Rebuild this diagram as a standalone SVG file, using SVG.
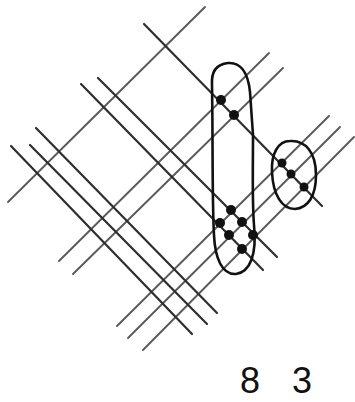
<svg xmlns="http://www.w3.org/2000/svg" width="355" height="402" viewBox="0 0 355 402">
<style>
.bk{stroke:#2e2e2e;stroke-width:2.2;stroke-linecap:round;fill:none}
.fw{stroke:#5a5a5a;stroke-width:1.9;stroke-linecap:round;fill:none}
.oval{stroke:#111;stroke-width:2.6;fill:none}
.dot{fill:#111}
.num{font-family:"Liberation Sans",Arial,sans-serif;font-size:36px;fill:#111;text-anchor:middle}
</style>
<rect width="355" height="402" fill="#fff"/>
<g id="connectors">
<line class="fw" x1="8" y1="202" x2="205" y2="7"/>
<line class="fw" x1="59" y1="261" x2="269" y2="53"/>
<line class="fw" x1="73" y1="274" x2="283" y2="68"/>
<line class="fw" x1="117" y1="326" x2="329" y2="116"/>
<line class="fw" x1="128" y1="338" x2="340" y2="127"/>
<line class="fw" x1="143" y1="350" x2="354" y2="137"/>
<line class="bk" x1="144" y1="24" x2="322" y2="206"/>
<line class="bk" x1="81" y1="84" x2="263" y2="270"/>
<line class="bk" x1="98" y1="78" x2="277" y2="257"/>
<line class="bk" x1="36" y1="128" x2="217" y2="313"/>
<line class="bk" x1="30" y1="145" x2="207" y2="324"/>
<line class="bk" x1="11" y1="146" x2="192" y2="334"/>
</g>
<g id="group-tall">
<path class="oval" d="M 212,85 C 211,70 218,64 228,63 C 240,62 248,72 250,92 L 253,135 C 253,170 252,200 254,225 C 257,255 250,272 236,274 C 222,275 215,258 214,235 C 212,200 213,140 212,85 Z"/>
<circle class="dot" cx="221" cy="100" r="5"/>
<circle class="dot" cx="234" cy="115" r="5"/>
<circle class="dot" cx="231" cy="210" r="5"/>
<circle class="dot" cx="220" cy="223" r="5"/>
<circle class="dot" cx="242" cy="222" r="5"/>
<circle class="dot" cx="229" cy="235" r="5"/>
<circle class="dot" cx="253" cy="235" r="5"/>
<circle class="dot" cx="242" cy="249" r="5"/>
</g>
<g id="group-small">
<path class="oval" d="M 290,141 C 305,140 316,152 316,175 C 316,196 308,208 295,209 C 282,209 273,195 272,172 C 271,154 278,141 290,141 Z"/>
<circle class="dot" cx="282" cy="163" r="4.5"/>
<circle class="dot" cx="291" cy="174" r="4.5"/>
<circle class="dot" cx="304" cy="187" r="4.5"/>
</g>
<g id="result">
<text class="num" x="250" y="393">8</text>
<text class="num" x="302" y="393">3</text>
</g>
</svg>
